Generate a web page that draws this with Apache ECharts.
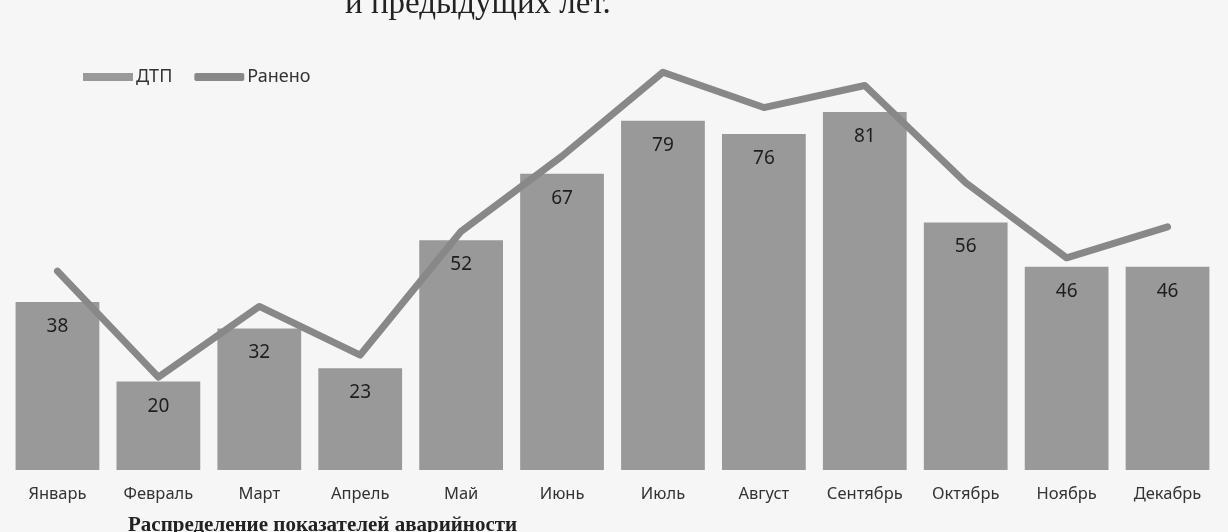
<!DOCTYPE html>
<html>
<head>
<meta charset="utf-8" />
<title>ДТП по месяцам</title>
<script type="text/javascript" src="https://cdn.jsdelivr.net/npm/echarts@6/dist/echarts.min.js"></script>
<style type="text/css">
html, body {
	width: 100%;
	height: 100%;
	margin: 0;
	background: #f6f6f6;
}
#main {
	width: 1228px;
	height: 532px;
}
</style>
</head>
<body>
<div id="main"></div>
<script type="text/javascript">
var months = ['Январь', 'Февраль', 'Март', 'Апрель', 'Май', 'Июнь', 'Июль', 'Август', 'Сентябрь', 'Октябрь', 'Ноябрь', 'Декабрь'];
var dtp = [38, 20, 32, 23, 52, 67, 79, 76, 81, 56, 46, 46];
var raneno = [45, 21, 37, 26, 54, 71, 90, 82, 87, 65, 48, 55];

var chart = echarts.init(document.getElementById('main'));

var option = {
    backgroundColor: '#f6f6f6',
    animation: false,
    textStyle: {
        fontFamily: 'Noto Sans'
    },
    legend: {
        left: 78,
        top: 63,
        itemWidth: 50,
        itemHeight: 8,
        itemGap: 22,
        textStyle: {
            fontSize: 18,
            color: '#333',
            padding: [0, 0, 0, -2]
        },
        data: [
            {name: 'ДТП', icon: 'rect'},
            {name: 'Ранено', icon: 'roundRect'}
        ]
    },
    grid: {
        left: 7,
        right: 10,
        top: 28,
        bottom: 62
    },
    xAxis: {
        type: 'category',
        data: months,
        axisLine: {show: false},
        axisTick: {show: false},
        axisLabel: {
            interval: 0,
            fontSize: 16.5,
            color: '#333',
            margin: 16
        }
    },
    yAxis: {
        type: 'value',
        min: 0,
        max: 100,
        show: false
    },
    series: [{
        name: 'ДТП',
        type: 'bar',
        data: dtp,
        barCategoryGap: '17%',
        itemStyle: {
            color: '#999999'
        },
        label: {
            show: true,
            position: 'insideTop',
            distance: 15,
            fontSize: 19,
            color: '#1e1e1e'
        }
    }, {
        name: 'Ранено',
        type: 'line',
        data: raneno,
        symbol: 'none',
        itemStyle: {
            color: '#888888'
        },
        lineStyle: {
            width: 7,
            color: '#888888',
            cap: 'round',
            join: 'round'
        }
    }],
    graphic: [{
        type: 'text',
        left: 345,
        top: -12,
        style: {
            text: 'и предыдущих лет.',
            font: '33px "Liberation Serif"',
            fill: '#222'
        }
    }, {
        type: 'text',
        left: 128,
        top: 515,
        style: {
            text: 'Распределение показателей аварийности',
            font: 'bold 21px "Liberation Serif"',
            fill: '#222'
        }
    }]
};

chart.setOption(option);
</script>
</body>
</html>
